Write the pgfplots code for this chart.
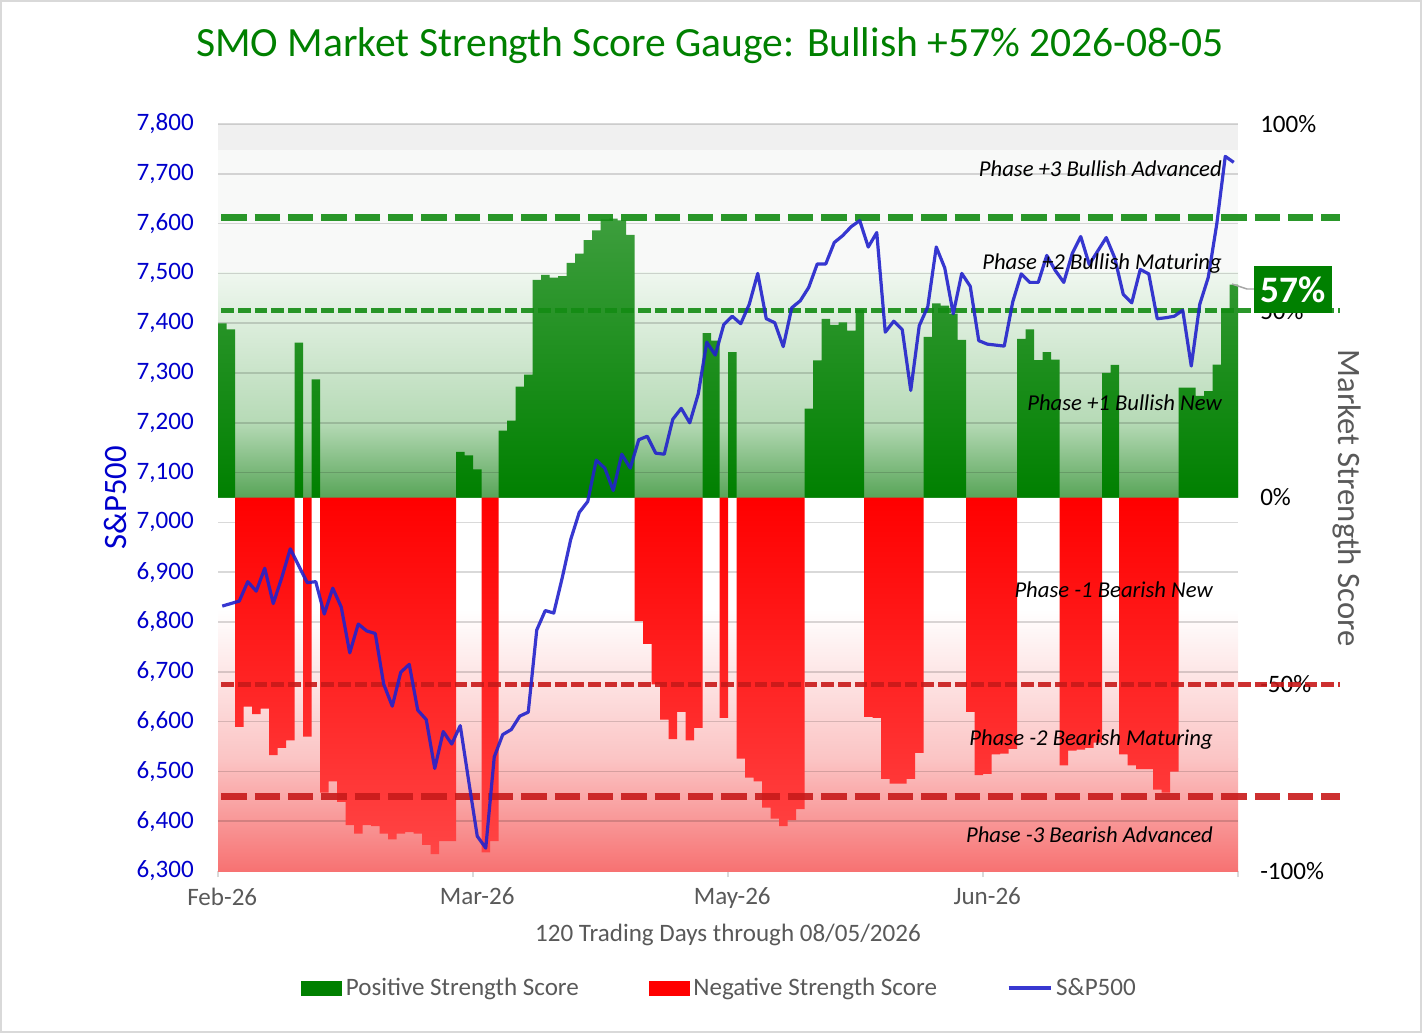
\documentclass[border=0pt]{standalone}
\usepackage{fontspec}
\setmainfont{Carlito}
\usepackage{pgfplots}
\pgfplotsset{compat=1.18}
\definecolor{cgreen}{HTML}{008000}
\definecolor{cbar}{HTML}{3D9E3D}
\definecolor{cred}{HTML}{FF0000}
\definecolor{cred2}{HTML}{FF4545}
\definecolor{ctext}{HTML}{595959}
\definecolor{cblue}{HTML}{0000CC}
\definecolor{cline}{HTML}{2222CC}
\definecolor{dgreen}{HTML}{138C13}
\definecolor{dred}{HTML}{C81A1A}
\definecolor{bgA}{HTML}{F0F0F0}
\definecolor{bgB}{HTML}{F8F9F8}
\definecolor{gA}{HTML}{EFF7EF}
\definecolor{gB}{HTML}{B6DAB6}
\definecolor{gC}{HTML}{58A558}
\definecolor{rA}{HTML}{FBC4C4}
\definecolor{rB}{HTML}{F77272}
\newcommand\tickfont{\fontsize{18.8}{22}\selectfont}
\begin{document}
\begin{tikzpicture}
\path[use as bounding box] (0pt,0pt) rectangle (1066.5pt,-774.75pt);
% ---------- percentage axis (bars) ----------
\begin{axis}[
  at={(163.5pt,-653.25pt)}, anchor=south west,
  scale only axis, width=765pt, height=560.25pt,
  xmin=-0.5, xmax=119.5, ymin=-100, ymax=100,
  clip=false,
  axis x line*=bottom, axis y line*=right,
  x axis line style={draw=black!15, line width=1.1pt},
  y axis line style={draw=none},
  major tick length=0pt,
  xtick={0,30,60,90}, xticklabels={Feb-26,Mar-26,May-26,Jun-26},
  xticklabel style={anchor=north, inner sep=0pt, yshift=-12.4pt, text=ctext, font=\tickfont},
  extra x ticks={-0.5,29.5,59.5,89.5,119.5}, extra x tick labels={},
  extra x tick style={major tick length=4.5pt, tick align=outside, tick style={draw=black!15, line width=1.1pt}},
  ytick={-100,-50,0,50,100}, yticklabels={-100\%,-50\%,0\%,50\%,100\%},
  yticklabel style={anchor=west, inner sep=0pt, xshift=16.5pt, text=black, font=\tickfont},
  ytick style={draw=none},
]
% background
\fill[bgA] (axis cs:-0.5,93) rectangle (axis cs:119.5,100);
\fill[bgB] (axis cs:-0.5,60) rectangle (axis cs:119.5,93);
\shade[top color=gA, bottom color=gB] (axis cs:-0.5,20) rectangle (axis cs:119.5,60.2);
\shade[top color=gB, bottom color=gC] (axis cs:-0.5,0) rectangle (axis cs:119.5,20.2);
\shade[top color=white, bottom color=rA] (axis cs:-0.5,-30) rectangle (axis cs:119.5,-70.2);
\shade[top color=rA, bottom color=rB] (axis cs:-0.5,-70) rectangle (axis cs:119.5,-100);
% grid lines (S&P500 every 100)
\pgfplotsinvokeforeach{-86.6667,-73.3333,-60,-46.6667,-33.3333,-20,-6.6667,6.6667,20,33.3333,46.6667,60,73.3333,86.6667,100}{
  \draw[black, opacity=0.15, line width=1.1pt] (axis cs:-0.5,#1) -- (axis cs:119.5,#1);
}
% positive strength score
\addplot[ybar, bar width=1, bar shift=0pt, draw=none, top color=cbar, bottom color=cgreen] coordinates {
(0,46.6)(1,45)(9,41.5)(11,31.6)(28,12.2)(29,11.3)(30,7.5)(33,17.9)(34,20.6)(35,29.7)(36,32.9)
(37,58.3)(38,59.6)(39,58.9)(40,59.3)(41,62.8)(42,65.3)(43,68.9)(44,71.5)(45,74.5)(46,74.7)(47,74.2)(48,70.3)
(57,44)(58,42)(60,38.9)(69,23.8)(70,36.7)(71,47.8)(72,46.2)(73,46.9)(74,44.7)(75,50.3)
(83,43)(84,52)(85,51.4)(86,49.2)(87,42.2)(94,42.5)(95,45)(96,36.8)(97,38.9)(98,36.9)
(104,33.4)(105,35.5)(113,29.4)(114,29.4)(115,27.2)(116,28.5)(117,35.6)(118,50.5)(119,57)};
% negative strength score
\addplot[ybar, bar width=1, bar shift=0pt, draw=none, top color=cred, bottom color=cred2] coordinates {
(2,-61.4)(3,-56)(4,-58)(5,-56.5)(6,-69)(7,-67)(8,-65)(10,-64)(12,-79)(13,-76)(14,-81.5)(15,-87.7)
(16,-90)(17,-87.7)(18,-88)(19,-90)(20,-91.5)(21,-90)(22,-89.6)(23,-90)(24,-93)(25,-95.5)(26,-92)(27,-92)
(31,-95)(32,-92)(49,-33.1)(50,-39.2)(51,-50)(52,-59.5)(53,-64.7)(54,-57.4)(55,-65)(56,-61.7)(59,-59)
(61,-69.9)(62,-75)(63,-76)(64,-83)(65,-86)(66,-88)(67,-86.4)(68,-83.4)
(76,-58.7)(77,-59)(78,-75.3)(79,-76.6)(80,-76.6)(81,-75.3)(82,-68.4)
(88,-57.4)(89,-74.3)(90,-74)(91,-68.8)(92,-68.6)(93,-67.3)
(99,-71.7)(100,-67.8)(101,-67.5)(102,-67)(103,-65.6)
(106,-68.8)(107,-71.7)(108,-72.7)(109,-72.7)(110,-78.2)(111,-79)(112,-73.4)};
% phase thresholds
\addplot[dgreen, line width=5.5pt, dash pattern=on 19pt off 6pt, opacity=0.9] coordinates {(-0.1,75)(131.5,75)};
\addplot[dgreen, line width=3.5pt, dash pattern=on 9.5pt off 3pt, opacity=0.9] coordinates {(-0.1,50)(131.5,50)};
\addplot[dred, line width=3.5pt, dash pattern=on 9.5pt off 3pt, opacity=0.9] coordinates {(-0.1,-50)(131.5,-50)};
\addplot[dred, line width=5.5pt, dash pattern=on 19pt off 6pt, opacity=0.9] coordinates {(-0.1,-80)(131.5,-80)};
\end{axis}
% ---------- S&P500 axis (line) ----------
\begin{axis}[
  at={(163.5pt,-653.25pt)}, anchor=south west,
  scale only axis, width=765pt, height=560.25pt,
  xmin=-0.5, xmax=119.5, ymin=6300, ymax=7800,
  axis x line=none, axis y line*=left,
  y axis line style={draw=none},
  ytick={6300,6400,6500,6600,6700,6800,6900,7000,7100,7200,7300,7400,7500,7600,7700,7800},
  ytick style={draw=none}, major tick length=0pt,
  yticklabel style={anchor=east, inner sep=0pt, xshift=-18pt, text=cblue, font=\tickfont},
  legend columns=3,
  legend style={at={(axis description cs:0.0814,-0.1566)}, anchor=west, draw=none, fill=none,
    inner sep=0pt, font=\tickfont, text=ctext, nodes={inner sep=0pt},
    /tikz/every odd column/.append style={column sep=3pt},
    /tikz/every even column/.append style={column sep=52.5pt}},
  /pgf/number format/.cd, fixed, 1000 sep={,}, assume math mode=true,
]
\addlegendimage{legend image code/.code={\fill[cgreen] (0pt,-5.25pt) rectangle (30pt,5.25pt);}}
\addlegendentry{Positive Strength Score}
\addlegendimage{legend image code/.code={\fill[cred] (0pt,-5.25pt) rectangle (30pt,5.25pt);}}
\addlegendentry{Negative Strength Score}
\addplot[cline, line width=2.4pt, opacity=0.9, line join=round, mark=none,
  legend image code/.code={\draw[cline, line width=2.4pt] (0pt,0pt) -- (31.5pt,0pt);}] table {
x y
0 6832
1 6837
2 6842
3 6881
4 6862
5 6908
6 6837
7 6889
8 6947
9 6913
10 6879
11 6881
12 6816
13 6868
14 6830
15 6738
16 6796
17 6782
18 6777
19 6675
20 6631
21 6699
22 6715
23 6623
24 6604
25 6506
26 6580
27 6555
28 6592
29 6480
30 6370
31 6346
32 6529
33 6574
34 6584
35 6611
36 6619
37 6784
38 6823
39 6818
40 6889
41 6966
42 7020
43 7042
44 7125
45 7109
46 7064
47 7137
48 7109
49 7166
50 7173
51 7139
52 7137
53 7207
54 7229
55 7200
56 7258
57 7362
58 7336
59 7397
60 7414
61 7399
62 7438
63 7500
64 7409
65 7401
66 7353
67 7431
68 7445
69 7472
70 7519
71 7519
72 7562
73 7576
74 7594
75 7606
76 7553
77 7582
78 7382
79 7404
80 7387
81 7265
82 7395
83 7433
84 7553
85 7511
86 7419
87 7500
88 7474
89 7365
90 7358
91 7356
92 7354
93 7443
94 7499
95 7482
96 7482
97 7536
98 7506
99 7482
100 7540
101 7574
102 7518
103 7545
104 7572
105 7531
106 7458
107 7441
108 7508
109 7499
110 7409
111 7411
112 7414
113 7426
114 7314
115 7438
116 7492
117 7599
118 7735
119 7723
};
\addlegendentry{S\&P500}
\end{axis}
% ---------- texts and decorations (pixel coordinates) ----------
\begin{scope}[x=0.75pt, y=-0.75pt]
\node[anchor=base, text=cgreen, font=\fontsize{31.2}{38}\selectfont, inner sep=0pt] at (710,56) {SMO Market Strength Score Gauge: Bullish +57\% 2026-08-05};
\node[anchor=base, text=ctext, font=\tickfont, inner sep=0pt] at (728,941) {120 Trading Days through 08/05/2026};
\node[rotate=90, anchor=base, text=cblue, font=\fontsize{24.5}{29}\selectfont, inner sep=0pt] at (126,498) {S\&P500};
\node[rotate=-90, anchor=base, text=ctext, font=\fontsize{24.5}{29}\selectfont, inner sep=0pt] at (1338,498) {Market Strength Score};
\begin{scope}[every node/.style={anchor=east, inner sep=0pt, font=\fontsize{17}{20}\selectfont\itshape}]
\node at (1222,169) {Phase +3 Bullish Advanced};
\node at (1222,264) {Phase +2 Bullish Maturing};
\node at (1222,403) {Phase +1 Bullish New};
\node at (1213,590) {Phase -1 Bearish New};
\node at (1213,740) {Phase -2 Bearish Maturing};
\node at (1213,835) {Phase -3 Bearish Advanced};
\end{scope}
\draw[black!35, line width=1.1pt] (1232,284) -- (1247,289) -- (1254,289);
\node[fill=cgreen, text=white, font=\fontsize{28}{33}\selectfont\bfseries, minimum width=58.5pt, minimum height=35.25pt, inner sep=0pt] at (1293,289.5) {57\%};
\draw[black!15, line width=1.5pt] (1,1) rectangle (1421,1032);
\end{scope}
\end{tikzpicture}
\end{document}
